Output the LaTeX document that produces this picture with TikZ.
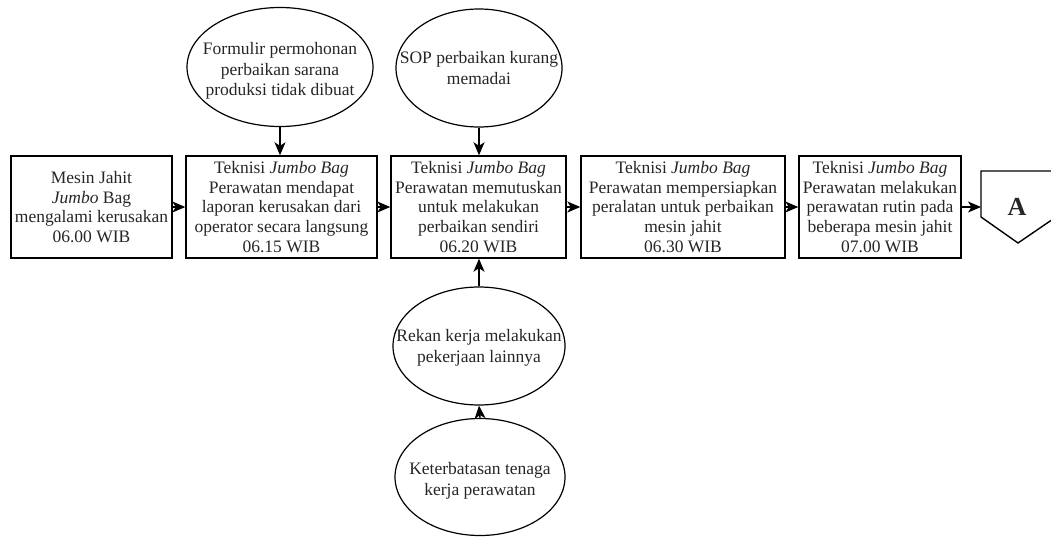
\documentclass[tikz,border=0pt]{standalone}
\usepackage{fontspec}
\setmainfont{Liberation Serif}
\usetikzlibrary{shapes.geometric,arrows.meta}
\begin{document}
\begin{tikzpicture}[x=1pt,y=-1pt,
  every node/.style={font=\fontsize{17.5}{19.7}\selectfont, text=black!85, align=center, inner sep=0pt},
  every label/.style={font=\fontsize{17.5}{20.5}\selectfont, text=black!85, align=center, inner sep=0pt},
  box/.style={draw=black, line width=1.4pt, rectangle, minimum height=102pt},
  oval/.style={draw=black, line width=1.2pt, ellipse},
  arr/.style={draw=black, line width=1.4pt, -{Stealth[length=13pt,width=11pt,inset=3.5pt]}},
]
\useasboundingbox (0,0) rectangle (1051,536);

\node[box, minimum width=161pt] (b1) at (91.5,207) {Mesin Jahit\\ \textit{Jumbo} Bag\\ mengalami kerusakan\\ 06.00 WIB};
\node[box, minimum width=191pt] (b2) at (281.5,207) {Teknisi \textit{Jumbo Bag}\\ Perawatan mendapat\\ laporan kerusakan dari\\ operator secara langsung\\ 06.15 WIB};
\node[box, minimum width=175pt] (b3) at (478.5,207) {Teknisi \textit{Jumbo Bag}\\ Perawatan memutuskan\\ untuk melakukan\\ perbaikan sendiri\\ 06.20 WIB};
\node[box, minimum width=204pt] (b4) at (683,207) {Teknisi \textit{Jumbo Bag}\\ Perawatan mempersiapkan\\ peralatan untuk perbaikan\\ mesin jahit\\ 06.30 WIB};
\node[box, minimum width=162pt] (b5) at (880,207) {Teknisi \textit{Jumbo Bag}\\ Perawatan melakukan\\ perawatan rutin pada\\ beberapa mesin jahit\\ 07.00 WIB};

\node[oval, minimum width=186pt, minimum height=119pt,
  label={[yshift=-4pt]center:Formulir permohonan\\ perbaikan sarana\\ produksi tidak dibuat}] (e1) at (280,67) {};
\node[oval, minimum width=166pt, minimum height=118pt,
  label={center:SOP perbaikan kurang\\ memadai}] (e2) at (479,68) {};
\node[oval, minimum width=172pt, minimum height=118pt,
  label={[yshift=-2pt]center:Rekan kerja melakukan\\ pekerjaan lainnya}] (e3) at (479,346) {};
\node[oval, minimum width=170pt, minimum height=117pt,
  label={[yshift=-4pt]center:Keterbatasan tenaga\\ kerja perawatan}] (e4) at (480,477) {};

% off-page connector
\coordinate (pin) at (981,207);
\draw[line width=1.4pt, line join=miter] (981,171) -- (1056,171) -- (1056,217) -- (1018,243) -- (981,217) -- cycle;
\node[font=\fontsize{26}{28}\selectfont\bfseries] (A) at (1017,207) {A};

\draw[arr] (b1.east) -- (b2.west);
\draw[arr] (b2.east) -- (b3.west);
\draw[arr] (b3.east) -- (b4.west);
\draw[arr] (b4.east) -- (b5.west);
\draw[arr] (b5.east) -- (pin);

\draw[arr] (e1.south) -- (e1.south |- b2.north);
\draw[arr] (e2.south) -- (e2.south |- b3.north);
\draw[arr] (e3.north) -- (e3.north |- b3.south);
\draw[arr] (e4.north) -- (e3.south);
\end{tikzpicture}
\end{document}
